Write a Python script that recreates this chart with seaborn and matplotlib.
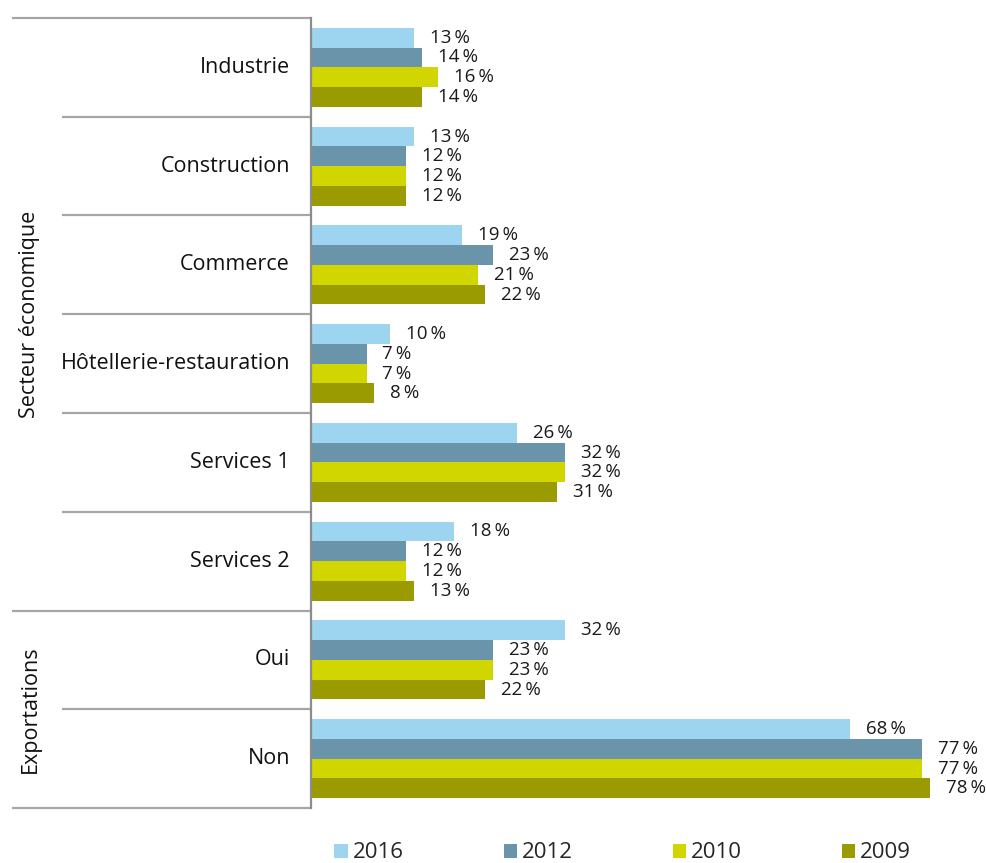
import matplotlib
matplotlib.use("Agg")
import matplotlib.pyplot as plt
import matplotlib.transforms as mtransforms
import pandas as pd
import seaborn as sns

categories = ["Industrie", "Construction", "Commerce", "Hôtellerie-restauration",
              "Services 1", "Services 2", "Oui", "Non"]
years = ["2016", "2012", "2010", "2009"]
v2016 = [13, 13, 19, 10, 26, 18, 32, 68]
v2012 = [14, 12, 23, 7, 32, 12, 23, 77]
v2010 = [16, 12, 21, 7, 32, 12, 23, 77]
v2009 = [14, 12, 22, 8, 31, 13, 22, 78]
groups = [("Secteur économique", 0, 5), ("Exportations", 6, 7)]
colors = ["#9dd4f0", "#6a94aa", "#d1d500", "#999b00"]

rows = []
for year, vals in zip(years, [v2016, v2012, v2010, v2009]):
    for cat, v in zip(categories, vals):
        rows.append({"cat": cat, "year": year, "value": v})
df = pd.DataFrame(rows)

sns.set_style("white")
plt.rcParams["font.family"] = ["Open Sans", "DejaVu Sans"]

fig = plt.figure(figsize=(9.87, 8.63), dpi=100)
ax = fig.add_axes([311 / 987, 1 - 808 / 863, 0.99 - 311 / 987, (808 - 18) / 863])

sns.barplot(df, x="value", y="cat", hue="year", order=categories, hue_order=years,
            palette=colors, saturation=1, width=0.8, orient="h", ax=ax, legend=True,
            linewidth=0)

for cont in ax.containers:
    vals = [r.get_width() for r in cont]
    ax.bar_label(cont, labels=[f"{v:.0f}\u2009%" for v in vals], padding=11.5,
                 fontsize=13.5, color="#1a1a1a")

ax.set_xlim(0, 84)
ax.set_ylim(7.5, -0.5)
ax.set_xlabel("")
ax.set_ylabel("")
ax.set_xticks([])
ax.set_yticks([])
for s in ["top", "right", "bottom"]:
    ax.spines[s].set_visible(False)
ax.spines["left"].set_color("#8c8c8c")
ax.spines["left"].set_linewidth(1.6)

# category labels and separator lines
trans = mtransforms.blended_transform_factory(fig.transFigure, ax.transData)
for i, cat in enumerate(categories):
    ax.text(290 / 987, i, cat, transform=trans, ha="right", va="center",
            fontsize=15.5, color="#111111")
group_edges = [-0.5] + [g[2] + 0.5 for g in groups]
for k in range(len(categories) + 1):
    y = k - 0.5
    x0 = 12 / 987 if y in group_edges else 62 / 987
    ax.plot([x0, 311 / 987], [y, y], transform=trans, color="#a6a6a6", lw=1.6,
            clip_on=False, solid_capstyle="butt")
for name, a, b in groups:
    ax.text(30 / 987, (a + b) / 2, name, transform=trans, rotation=90,
            ha="center", va="center", fontsize=15.5, color="#111111")

handles, labels = ax.get_legend_handles_labels()
ax.get_legend().remove()
fig.legend(handles, labels, loc="center", bbox_to_anchor=(0.631, 0.0116), ncol=4,
           frameon=False, fontsize=16, handlelength=0.6, handleheight=0.6,
           handletextpad=0.22, columnspacing=4.5)

fig.savefig("out.png", dpi=100)
